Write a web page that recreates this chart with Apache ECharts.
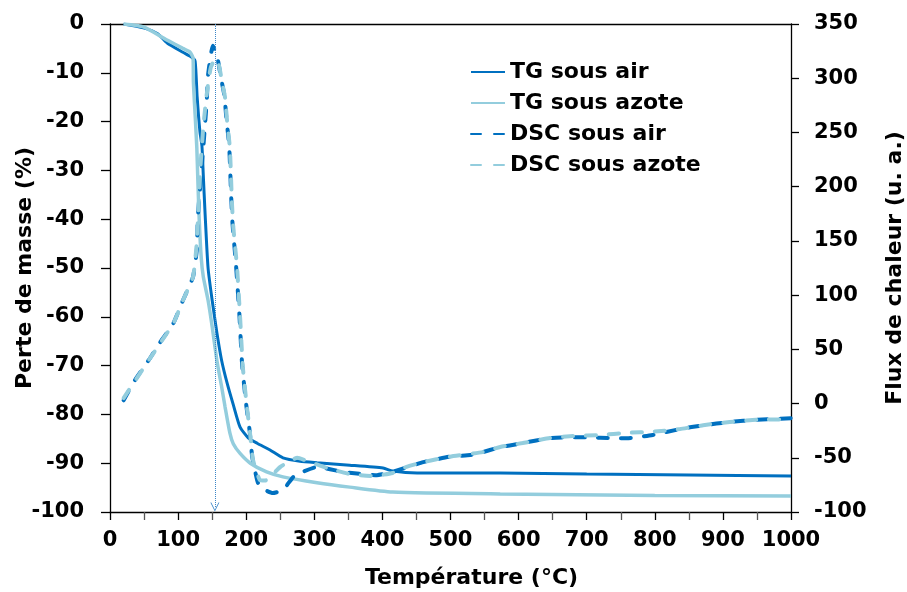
<!DOCTYPE html>
<html>
<head>
<meta charset="utf-8">
<script src="https://cdn.jsdelivr.net/npm/echarts@6/dist/echarts.min.js"></script>
<style>
  html, body { margin: 0; padding: 0; background: #fff; }
  #chart { width: 907px; height: 592px; }
</style>
</head>
<body>
<div id="chart"></div>
<script>
// températures (°C) et valeurs
var tgAirT = [20, 49, 70, 84, 107, 120, 125, 128, 132, 135, 137, 139.5, 144, 150, 157, 164, 172, 181, 191, 203, 216, 235, 254, 279, 304, 352, 401, 415, 451, 573, 700, 850, 1000];
var tgAirV = [0, -0.8, -2.0, -3.9, -5.8, -6.8, -7.6, -15, -22, -25, -31, -38.5, -50, -56.6, -63.3, -69, -73.6, -78, -82.6, -84.8, -85.9, -87.3, -88.9, -89.6, -89.9, -90.4, -91, -91.6, -92, -92, -92.2, -92.4, -92.6];

var tgAzT = [20, 49, 84, 107, 117, 122, 122.5, 125, 127.5, 129, 131, 134, 137, 144, 150, 157, 164, 169, 176, 181, 191, 206, 230, 254, 304, 352, 415, 573, 800, 1000];
var tgAzV = [0, -0.6, -3.3, -5, -5.7, -7, -12, -18.6, -25.4, -32, -40, -48, -51.8, -56.6, -62, -69, -74.4, -78.5, -83.8, -86, -88, -90, -91.8, -92.8, -94, -94.9, -95.9, -96.3, -96.6, -96.7];

var dscAirT = [20, 37, 59, 73, 93, 107, 122, 127.5, 129, 137, 139.5, 142, 144, 151, 158, 163, 168, 171, 175, 178, 180, 185, 190, 194, 200, 205, 209, 216, 220, 239, 254, 269, 279, 304, 342, 392, 415, 460, 499, 529, 548, 568, 606, 646, 680, 720, 759, 797, 837, 871, 910, 950, 1000];
var dscAirV = [3, 22, 42, 56, 74, 95, 117, 142, 172, 236, 257, 278, 303, 330, 318, 300, 284, 262, 238, 190, 165, 128, 82, 36, -1, -25, -50, -70.5, -77, -82.5, -79.7, -67.7, -64, -58.5, -63, -66, -63, -54, -49, -47.5, -44.7, -41, -36.4, -31.8, -31, -31.5, -32, -29, -23.5, -20, -17, -15, -13.5];

var dscAzT = [20, 59, 93, 107, 122, 127, 130, 133, 137, 142, 148, 155, 160, 165, 169, 172, 176, 179, 181, 186.5, 191, 195, 201, 205.6, 210, 220, 228, 250, 275, 294, 319, 352, 386, 415, 430, 460, 499, 548, 573, 606, 646, 680, 720, 759, 797, 837, 871, 910, 950, 1000];
var dscAzV = [5, 42, 74, 95, 117, 145, 180, 220, 255, 285, 310, 318, 312, 295, 282, 260, 236, 186, 163, 126, 80, 34, -3, -27, -52, -70.5, -71, -58.5, -50, -54, -59.5, -65, -66.8, -64, -59.5, -54, -49, -44.7, -40, -36.4, -31.8, -30, -29, -27, -26, -23.5, -20, -17, -15, -14.5];

var seriesNames = ["TG sous air", "TG sous azote", "DSC sous air", "DSC sous azote"];
var xTicks = { min: 0, max: 1000, interval: 100 };
var leftTicks = { min: -100, max: 0, interval: 10 };
var rightTicks = { min: -100, max: 350, interval: 50 };
var peakT = 154; // ligne pointillée verticale

function zip(t, v) {
  return t.map(function (x, i) { return [x, v[i]]; });
}

var dark = "#0070C0";
var light = "#93CDDD";
var font = "DejaVu Sans";
var chevron = "path://M0,10 L5,0 L10,10 L9,10 L5,2 L1,10 Z";
var dash = [10, 13];

var axisLabelStyle = { color: "#000", fontFamily: font, fontWeight: "bold", fontSize: 21 };
var axisNameStyle = { color: "#000", fontFamily: font, fontWeight: "bold", fontSize: 22 };
var axisLineStyle = { color: "#000", width: 1.3 };

var option = {
  animation: false,
  backgroundColor: "#fff",
  grid: { left: 110, right: 116, top: 24, bottom: 80, outerBoundsMode: "none", containLabel: false },
  legend: {
    orient: "vertical",
    left: 465,
    top: 55,
    itemWidth: 34,
    itemHeight: 14,
    itemGap: 7,
    itemTextGap: 0,
    itemStyle: { opacity: 0 },
    data: [
      { name: seriesNames[0] },
      { name: seriesNames[1] },
      { name: seriesNames[2], lineStyle: { type: dash } },
      { name: seriesNames[3], lineStyle: { type: dash } }
    ],
    textStyle: { color: "#000", fontFamily: font, fontWeight: "bold", fontSize: 22, lineHeight: 24 }
  },
  xAxis: [
    {
      type: "value",
      min: xTicks.min, max: xTicks.max, interval: xTicks.interval,
      position: "bottom",
      name: "Température (°C)",
      nameLocation: "middle",
      nameGap: 55,
      nameMoveOverlap: false,
      nameTextStyle: Object.assign({ padding: [0, 0, 0, 42] }, axisNameStyle),
      axisLine: { onZero: false, lineStyle: axisLineStyle },
      axisTick: { show: true, inside: false, length: 8, lineStyle: axisLineStyle },
      minorTick: { show: true, splitNumber: 2, length: 8, lineStyle: { color: "#555", width: 1.3 } },
      axisLabel: Object.assign({ margin: 18, formatter: function (v) { return String(v); } }, axisLabelStyle),
      splitLine: { show: false }
    },
    {
      type: "value",
      min: xTicks.min, max: xTicks.max,
      position: "top",
      axisLine: { onZero: false, lineStyle: axisLineStyle },
      axisTick: { show: false },
      axisLabel: { show: false },
      splitLine: { show: false }
    }
  ],
  yAxis: [
    {
      type: "value",
      min: leftTicks.min, max: leftTicks.max, interval: leftTicks.interval,
      position: "left",
      name: "Perte de masse (%)",
      nameLocation: "middle",
      nameRotate: 90,
      nameGap: 74,
      nameMoveOverlap: false,
      nameTextStyle: axisNameStyle,
      axisLine: { show: true, onZero: false, lineStyle: axisLineStyle },
      axisTick: { show: true, length: 9, lineStyle: axisLineStyle },
      axisLabel: Object.assign({ margin: 26 }, axisLabelStyle),
      splitLine: { show: false }
    },
    {
      type: "value",
      min: rightTicks.min, max: rightTicks.max, interval: rightTicks.interval,
      position: "right",
      name: "Flux de chaleur (u. a.)",
      nameLocation: "middle",
      nameRotate: 90,
      nameGap: 93,
      nameMoveOverlap: false,
      nameTextStyle: axisNameStyle,
      axisLine: { show: true, onZero: false, lineStyle: axisLineStyle },
      axisTick: { show: true, length: 8, lineStyle: axisLineStyle },
      axisLabel: Object.assign({ margin: 23 }, axisLabelStyle),
      splitLine: { show: false }
    }
  ],
  series: [
    {
      name: seriesNames[0],
      type: "line",
      yAxisIndex: 0,
      data: zip(tgAirT, tgAirV),
      symbol: "none",
      smooth: 0.2,
      lineStyle: { color: dark, width: 3 },
      itemStyle: { color: dark },
      z: 2,
      markLine: {
        silent: true,
        symbol: ["none", chevron],
        symbolSize: [9, 9],
        label: { show: false },
        lineStyle: { color: "#3A86C8", width: 1, type: "dotted" },
        data: [[{ coord: [peakT, 0] }, { coord: [peakT, -99] }]]
      }
    },
    {
      name: seriesNames[1],
      type: "line",
      yAxisIndex: 0,
      data: zip(tgAzT, tgAzV),
      symbol: "none",
      smooth: 0.2,
      lineStyle: { color: light, width: 3.5 },
      itemStyle: { color: light },
      z: 3
    },
    {
      name: seriesNames[2],
      type: "line",
      yAxisIndex: 1,
      data: zip(dscAirT, dscAirV),
      symbol: "none",
      smooth: 0.15,
      lineStyle: { color: dark, width: 4, type: dash, cap: "round" },
      itemStyle: { color: dark },
      z: 4
    },
    {
      name: seriesNames[3],
      type: "line",
      yAxisIndex: 1,
      data: zip(dscAzT, dscAzV),
      symbol: "none",
      smooth: 0.15,
      lineStyle: { color: light, width: 4, type: dash, cap: "round" },
      itemStyle: { color: light },
      z: 5
    }
  ]
};

var myChart = echarts.init(document.getElementById("chart"));
myChart.setOption(option);
</script>
</body>
</html>
